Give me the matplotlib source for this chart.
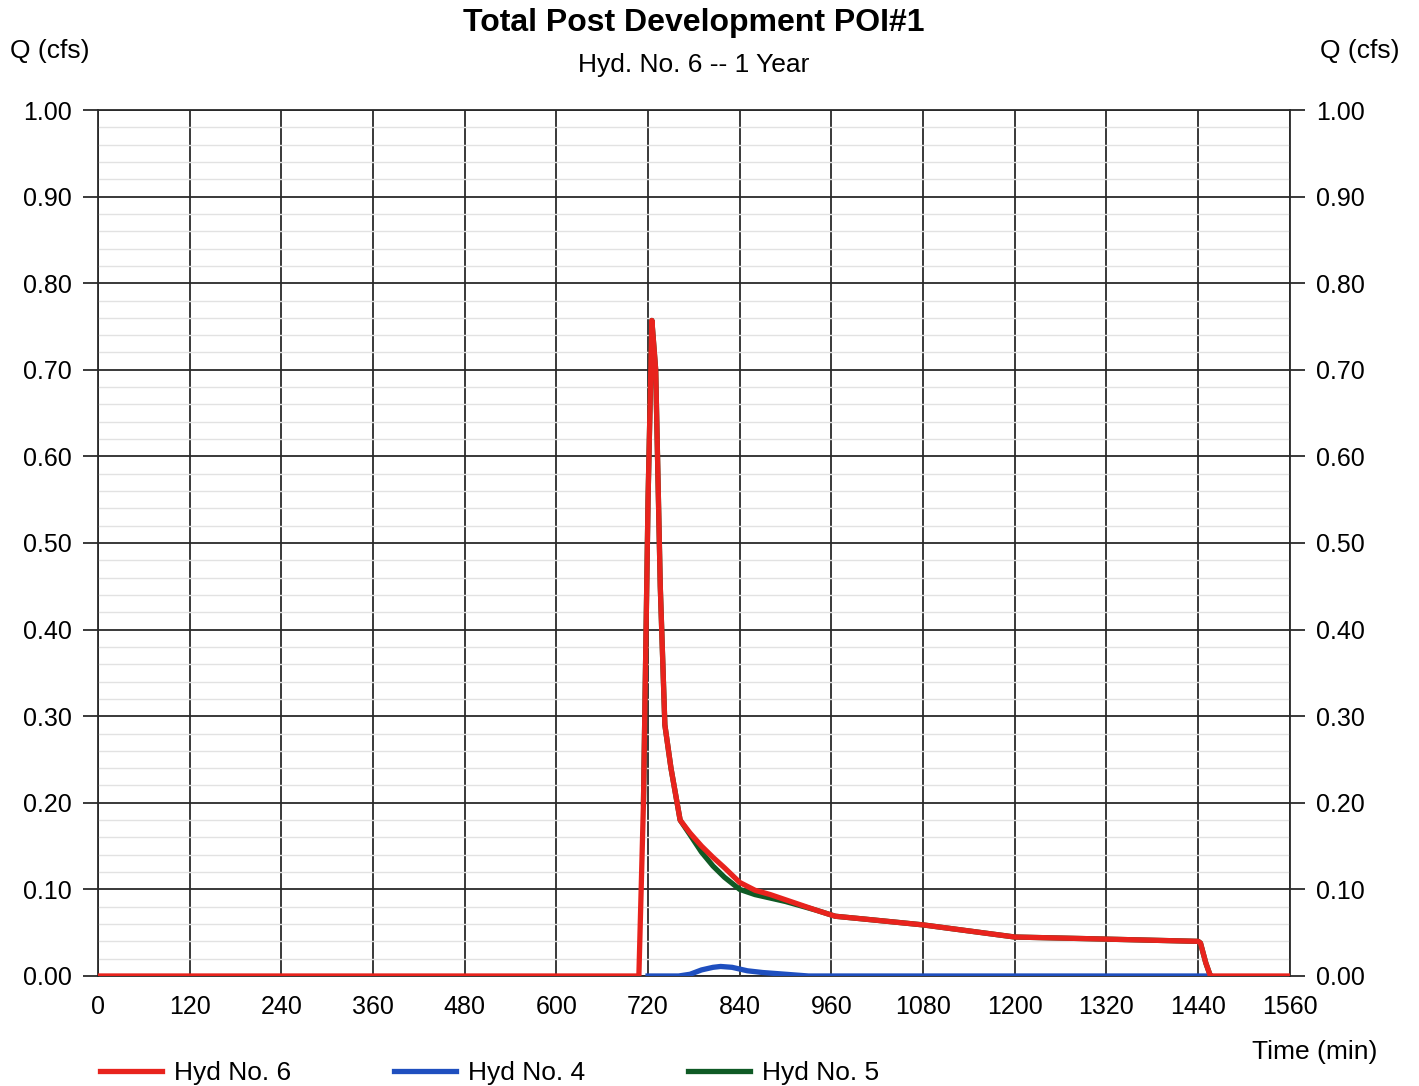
import matplotlib
matplotlib.use("Agg")
import matplotlib.pyplot as plt
from matplotlib.ticker import MultipleLocator

plt.rcParams["font.family"] = ["Liberation Sans", "DejaVu Sans"]

# hydrograph ordinates, time in minutes, flow in cfs
hyd6_t = [0, 708, 714, 720, 725, 730, 736, 742, 750, 762, 775, 790, 805, 820,
          840, 860, 880, 900, 920, 940, 965, 1000, 1080, 1140, 1200, 1300,
          1440, 1443, 1450, 1456, 1560]
hyd6_q = [0, 0, 0.20, 0.55, 0.757, 0.70, 0.45, 0.29, 0.24, 0.18, 0.165, 0.150,
          0.137, 0.125, 0.108, 0.099, 0.094, 0.088, 0.082, 0.076, 0.069, 0.066,
          0.059, 0.052, 0.045, 0.043, 0.040, 0.038, 0.015, 0.0, 0.0]

hyd4_t = [720, 760, 775, 790, 805, 815, 830, 850, 870, 900, 930, 1456]
hyd4_q = [0, 0, 0.002, 0.007, 0.010, 0.011, 0.010, 0.006, 0.004, 0.002, 0, 0]

hyd5_t = [714, 720, 725, 730, 736, 742, 750, 762, 775, 790, 805, 820, 840, 860,
          880, 900, 920, 940, 965, 1000, 1080, 1140, 1200, 1300, 1440, 1443,
          1450, 1456]
hyd5_q = [0.20, 0.55, 0.757, 0.70, 0.45, 0.29, 0.24, 0.18, 0.163, 0.143, 0.127,
          0.114, 0.100, 0.094, 0.090, 0.086, 0.081, 0.076, 0.069, 0.066, 0.059,
          0.052, 0.045, 0.043, 0.040, 0.038, 0.015, 0.0]

labels = ["Hyd No. 6", "Hyd No. 4", "Hyd No. 5"]
colors = ["#e8231d", "#1f4fbf", "#0f5a25"]
FS = 19

fig = plt.figure(figsize=(14.19, 10.86), dpi=100)
ax = fig.add_axes([0.069, 0.1013, 0.840, 0.7974])

l5, = ax.plot(hyd5_t, hyd5_q, color=colors[2], lw=3.8, zorder=3)
l4, = ax.plot(hyd4_t, hyd4_q, color=colors[1], lw=3.8, zorder=4)
l6, = ax.plot(hyd6_t, hyd6_q, color=colors[0], lw=3.8, zorder=5)

ax.set_xlim(0, 1560)
ax.set_ylim(0, 1.0)
ax.yaxis.set_major_locator(MultipleLocator(0.10))
ax.yaxis.set_minor_locator(MultipleLocator(0.02))
ax.set_xticks(list(range(0, 1561, 120)))
ax.yaxis.set_major_formatter(lambda v, p: f"{v:.2f}")

ax.grid(which="major", color="#2a2a2a", lw=1.3, zorder=1)
ax.grid(which="minor", axis="y", color="#e2e2e2", lw=1.0, zorder=0)
ax.tick_params(axis="y", which="major", length=11, width=1.3, color="#2a2a2a",
               labelsize=18, left=True, right=True, labelright=True, pad=8)
ax.tick_params(axis="y", which="minor", length=0)
ax.tick_params(axis="x", length=0, labelsize=18, pad=14)
for s in ax.spines.values():
    s.set_color("#2a2a2a")
    s.set_linewidth(1.3)

fig.text(0.489, 0.979, "Total Post Development POI#1", ha="center", va="center",
         fontsize=23, fontweight="bold")
fig.text(0.489, 0.940, "Hyd. No. 6 -- 1 Year", ha="center", va="center", fontsize=19)
fig.text(0.007, 0.953, "Q (cfs)", ha="left", va="center", fontsize=FS)
fig.text(0.986, 0.953, "Q (cfs)", ha="right", va="center", fontsize=FS)
fig.text(0.971, 0.031, "Time (min)", ha="right", va="center", fontsize=FS)

fig.legend([l6, l4, l5], labels, loc="center left", bbox_to_anchor=(0.063, 0.012),
           ncol=3, frameon=False, fontsize=FS, handlelength=2.35,
           handletextpad=0.45, columnspacing=3.9, borderaxespad=0)

fig.savefig("out.png", dpi=100, facecolor="white")
